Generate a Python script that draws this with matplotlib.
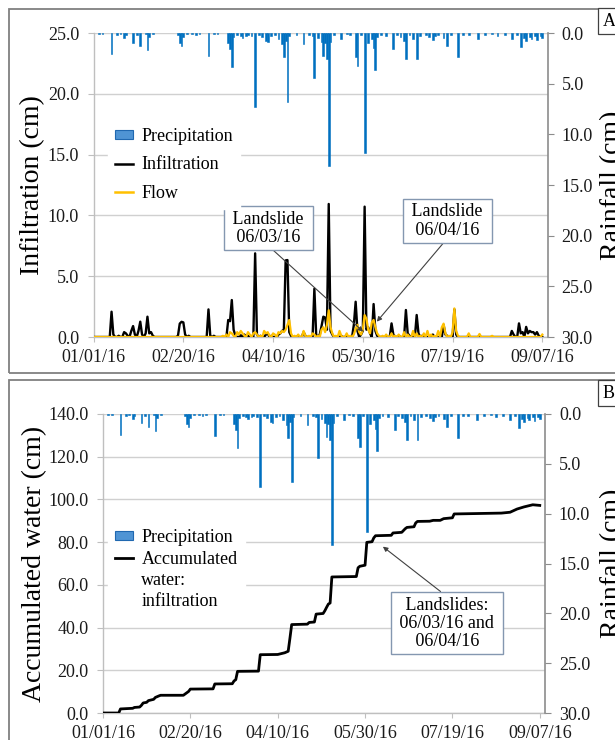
import numpy as np
import matplotlib
matplotlib.use('Agg')
import matplotlib.pyplot as plt
from matplotlib.patches import Rectangle, Patch
from matplotlib.lines import Line2D

plt.rcParams['font.family'] = ['Liberation Serif', 'DejaVu Serif']

# ---------------- data (day index from 01/01/16) ----------------
N_DAYS = 251
x_tick_days = [0, 50, 100, 150, 200, 250]
x_tick_labels = ['01/01/16', '02/20/16', '04/10/16', '05/30/16', '07/19/16', '09/07/16']

prec_days = [3, 5, 10, 13, 15, 17, 18, 22, 24, 26, 29, 30, 31, 33,
             47, 48, 49, 50, 52, 55, 57, 59,
             64, 67, 69,
             75, 76, 77, 78, 80, 82, 83, 85, 86, 88,
             90, 92, 94, 96, 97, 99, 101, 103, 105, 106, 107, 108, 109,
             113, 117, 120, 122,
             123, 125, 127, 128, 129, 130, 131, 132, 134,
             138, 141, 143, 146, 147, 149,
             151, 153, 155, 156, 157, 158, 160, 163,
             167, 169, 171, 173, 174, 176, 178, 180, 182, 185, 187, 189, 190, 192,
             195, 197, 199, 203, 206, 209, 214, 218, 222, 225, 229, 233,
             236, 238, 240, 241, 243, 244, 246, 247, 249, 250]
prec_vals = [0.1, 0.1, 2.1, 0.2, 0.1, 0.5, 0.2, 0.95, 0.2, 1.3, 0.1, 1.7, 0.4, 0.1,
             0.2, 1.0, 1.3, 0.4, 0.1, 0.1, 0.2, 0.1,
             2.25, 0.1, 0.1,
             1.0, 1.6, 3.4, 0.4, 0.2, 0.3, 0.5, 0.3, 0.2, 0.3,
             7.3, 0.2, 0.4, 0.8, 0.9, 0.3, 0.2, 0.6, 1.1, 2.4, 0.8, 6.8, 0.3,
             0.2, 1.1, 0.2, 0.3,
             4.4, 0.5, 0.9, 2.3, 1.0, 2.6, 13.1, 0.9, 0.2,
             0.6, 0.1, 0.2, 2.4, 3.3, 0.2,
             11.8, 1.0, 0.6, 1.5, 3.7, 0.4, 0.2, 0.3,
             1.6, 0.2, 0.4, 0.8, 2.6, 0.2, 0.6, 2.6, 0.3, 0.2, 0.4, 0.7, 0.3, 0.2,
             0.5, 1.3, 0.2, 2.4, 0.2, 0.2, 0.6, 0.2, 0.1, 0.3, 0.2, 0.6,
             0.2, 1.4, 0.5, 0.8, 0.4, 0.6, 0.3, 0.7, 0.3, 0.5]

infil_days = [10, 11, 14, 17, 18, 19, 21, 22, 23, 25, 26, 27, 29, 30, 31, 32, 33,
              47, 48, 49, 50, 51, 53,
              64, 65, 67,
              75, 76, 77, 78, 79, 82, 84, 86,
              90, 91, 93, 96, 97, 99,
              103, 104, 105, 106, 107, 108, 109, 110,
              114, 117, 118,
              123, 124, 126, 127, 128, 129, 130, 131, 132, 133,
              138, 141, 145, 146, 147, 149,
              150, 151, 152, 153, 154, 156, 157, 158,
              166, 167, 170, 174, 175, 176, 180, 181, 183,
              189, 195, 196, 197, 201, 202,
              233, 234, 237, 238, 239, 241, 242, 243, 244, 245, 246, 247, 248]
infil_vals = [2.08, 0.2, 0.1, 0.4, 0.3, 0.1, 0.5, 0.9, 0.2, 0.5, 1.26, 0.2, 0.3, 1.67, 0.3, 0.4, 0.1,
              0.1, 1.1, 1.25, 1.2, 0.2, 0.1,
              2.27, 0.1, 0.1,
              1.4, 1.3, 3.04, 0.6, 0.1, 0.15, 0.2, 0.1,
              6.88, 0.2, 0.1, 0.2, 0.3, 0.1,
              0.2, 0.3, 0.5, 0.6, 6.3, 6.33, 0.4, 0.1,
              0.1, 0.4, 0.1,
              3.97, 0.2, 0.2, 0.9, 1.67, 1.6, 0.6, 10.94, 0.5, 0.2,
              0.1, 0.1, 1.0, 2.9, 0.5, 0.2,
              0.5, 10.72, 0.6, 0.8, 0.3, 2.71, 0.5, 0.1,
              1.12, 0.2, 0.1, 2.22, 0.3, 0.1, 1.81, 0.3, 0.1,
              0.2, 0.99, 0.2, 0.1, 2.27, 0.2,
              0.5, 0.2, 1.12, 0.3, 0.4, 0.83, 0.3, 0.5, 0.4, 0.4, 0.2, 0.4, 0.1]

flow_days = [72, 74, 76, 77, 78, 80, 81, 82, 83, 84, 86, 87, 89, 90, 91, 93, 95, 96, 97, 98,
             100, 101, 103, 104, 105, 106, 107, 108, 109, 110, 112, 114, 117, 118, 120,
             122, 123, 125, 127, 128, 129, 130, 131, 132, 133, 135, 137, 138, 141, 143,
             145, 146, 147, 148, 149, 150, 151, 152, 153, 154, 155, 156, 157, 158, 159,
             161, 163, 166, 168, 170, 173, 175, 178, 180, 182, 184, 186, 188, 190, 192,
             194, 195, 196, 198, 200, 201, 202, 203, 209, 215, 222, 250]
flow_vals = [0.1, 0.2, 0.4, 0.3, 0.1, 0.4, 0.2, 0.5, 0.3, 0.1, 0.4, 0.2, 0.3, 0.4, 0.2, 0.1, 0.5, 0.3, 0.4, 0.1,
             0.3, 0.2, 0.4, 0.3, 0.5, 0.4, 0.6, 1.0, 1.4, 0.3, 0.1, 0.2, 0.5, 0.1, 0.1,
             0.3, 0.2, 0.1, 0.6, 0.8, 0.4, 1.0, 2.2, 0.8, 0.3, 0.1, 0.5, 0.1, 0.3, 0.1,
             0.2, 0.7, 1.0, 0.4, 0.2, 0.6, 1.8, 1.5, 0.6, 0.3, 1.2, 1.4, 0.8, 0.3, 0.1,
             0.1, 0.2, 0.3, 0.1, 0.2, 0.4, 0.2, 0.5, 0.3, 0.1, 0.3, 0.5, 0.2, 0.1, 0.5,
             0.8, 1.1, 0.3, 0.1, 0.4, 2.35, 0.5, 0.1, 0.3, 0.25, 0.1, 0.2]

acc_days = [0, 9, 10, 17, 18, 21, 22, 23, 25, 26, 29, 30, 32, 33, 46, 48, 49, 50, 63, 64,
            74, 75, 76, 77, 89, 90, 100, 104, 106, 107, 108, 117, 118, 121, 122, 126, 127,
            128, 129, 130, 131, 145, 146, 147, 150, 151, 154, 155, 156, 165, 166, 171, 173,
            174, 178, 179, 180, 187, 189, 193, 195, 200, 201, 228, 233, 237, 241, 246, 250]
acc_vals = [0, 0, 1.9, 2.2, 2.6, 2.8, 3.6, 4.7, 5.0, 5.8, 6.4, 7.3, 8.0, 8.3, 8.3, 9.5, 10.1, 11.2, 11.3, 13.6,
            13.7, 15.0, 15.6, 19.5, 19.6, 27.3, 27.4, 28.2, 28.9, 35.0, 41.4, 41.6, 42.4, 42.6, 46.3, 46.6, 47.9,
            49.5, 51.0, 51.5, 63.7, 63.9, 68.0, 68.7, 69.2, 79.9, 80.2, 82.0, 83.0, 83.2, 84.3, 84.6, 86.3,
            86.9, 87.2, 89.0, 89.7, 89.8, 90.2, 90.2, 91.0, 91.4, 93.2, 93.6, 94.0, 95.5, 96.5, 97.5, 97.2]

# ---------------- layout helpers ----------------
W, H = 615, 740
fig = plt.figure(figsize=(W / 100, H / 100), dpi=100)


def fx(px):
    return px / W


def fy(py):
    return 1 - py / H


TICK_C = '#1a1a1a'
GRID_C = '#d0d0d0'
AX_C = '#bfbfbf'
RAX_C = '#8c8c8c'
BAR_C = '#0070c0'
FLOW_C = '#ffc000'
BOX_EC = '#8497b0'


def daily(days, vals):
    s = np.zeros(N_DAYS)
    s[np.array(days)] = vals
    return s


def style_axes(ax, ax2, yticks, yfmt):
    ax.set_xlim(0, 253)
    ax.set_xticks(x_tick_days)
    ax.set_xticklabels(x_tick_labels)
    ax.set_yticks(yticks)
    ax.set_yticklabels([yfmt % v for v in yticks])
    ax.yaxis.grid(True, color=GRID_C, lw=1)
    ax.set_axisbelow(True)
    for s in ['top', 'right']:
        ax.spines[s].set_visible(False)
    for s in ['left', 'bottom']:
        ax.spines[s].set_color(AX_C)
        ax.spines[s].set_linewidth(1)
    ax.tick_params(axis='x', colors=AX_C, labelcolor=TICK_C, labelsize=13, length=3.5, pad=5)
    ax.tick_params(axis='y', colors=AX_C, labelcolor=TICK_C, labelsize=13, length=4, pad=6.5)
    for s in ['left', 'top', 'bottom']:
        ax2.spines[s].set_visible(False)
    ax2.spines['right'].set_color(RAX_C)
    ax2.spines['right'].set_linewidth(1.2)
    ax2.set_ylim(30, 0)
    ax2.set_yticks([0, 5, 10, 15, 20, 25, 30])
    ax2.set_yticklabels(['%.1f' % v for v in [0, 5, 10, 15, 20, 25, 30]])
    ax2.tick_params(axis='y', colors=RAX_C, labelcolor=TICK_C, labelsize=13, length=4, pad=6)


# ---------------- Panel A ----------------
days = np.arange(N_DAYS)
infil = daily(infil_days, infil_vals)
flow = daily(flow_days, flow_vals)

axA = fig.add_axes([fx(93.6), fy(337), fx(547.7) - fx(93.6), (337 - 33) / H])
axA.plot(days, infil, color='black', lw=1.7, zorder=3)
axA.plot(days, flow, color=FLOW_C, lw=1.6, zorder=4)
axA.set_ylim(0, 25)
axA2 = axA.twinx()
axA2.bar(prec_days, prec_vals, width=1.0, color=BAR_C, edgecolor=BAR_C, linewidth=0.4)
style_axes(axA, axA2, [0, 5, 10, 15, 20, 25], '%.1f')

prec_handle = Patch(facecolor='#4f94d4', edgecolor='#2068b0', linewidth=0.8)
legA = axA2.legend([prec_handle, Line2D([], [], color='black', lw=1.8), Line2D([], [], color=FLOW_C, lw=1.8)],
                   ['Precipitation', 'Infiltration', 'Flow'],
                   loc='upper left', bbox_to_anchor=(fx(108), fy(121)), bbox_transform=fig.transFigure,
                   borderaxespad=0, frameon=True, fancybox=False, framealpha=1, edgecolor='white',
                   fontsize=13, handlelength=1.0, handleheight=0.4, handletextpad=0.45,
                   labelspacing=0.62, borderpad=0.4)

box_kw = dict(boxstyle='square,pad=0.25', fc='white', ec=BOX_EC, lw=1)
arr_kw = dict(arrowstyle='-|>', color='#404040', lw=0.8, mutation_scale=7, shrinkA=0, shrinkB=0)
axA2.annotate(' Landslide \n 06/03/16 ', xy=(150.2, 0.44), xycoords=axA.transData,
              xytext=(97.2, 8.96), textcoords=axA.transData, ha='center', va='center',
              fontsize=13, linespacing=1.08, bbox=box_kw,
              arrowprops=dict(arr_kw, relpos=(0.5, 0)))
axA2.annotate(' Landslide \n 06/04/16 ', xy=(157.8, 1.26), xycoords=axA.transData,
              xytext=(197.0, 9.54), textcoords=axA.transData, ha='center', va='center',
              fontsize=13, linespacing=1.08, bbox=box_kw,
              arrowprops=dict(arr_kw, relpos=(0.5, 0)))

# ---------------- Panel B ----------------
axB = fig.add_axes([fx(103), fy(713), fx(545) - fx(103), (713 - 414) / H])
axB.plot(acc_days, acc_vals, color='black', lw=2, zorder=3)
axB.set_ylim(0, 140)
axB2 = axB.twinx()
axB2.bar(prec_days, prec_vals, width=1.0, color=BAR_C, edgecolor=BAR_C, linewidth=0.4)
style_axes(axB, axB2, [0, 20, 40, 60, 80, 100, 120, 140], '%.1f')

blank = Line2D([], [], color='none')
legB = axB2.legend([prec_handle, Line2D([], [], color='black', lw=2), blank, blank],
                   ['Precipitation', 'Accumulated', 'water:', 'infiltration'],
                   loc='upper left', bbox_to_anchor=(fx(108), fy(522)), bbox_transform=fig.transFigure,
                   borderaxespad=0, frameon=True, fancybox=False, framealpha=1, edgecolor='white',
                   fontsize=13, handlelength=1.0, handleheight=0.4, handletextpad=0.45,
                   labelspacing=0.24, borderpad=0.4)

axB2.annotate(' Landslides: \n 06/03/16 and \n 06/04/16 ', xy=(160.2, 77.9), xycoords=axB.transData,
              xytext=(196.9, 42.1), textcoords=axB.transData, ha='center', va='center',
              fontsize=13, linespacing=1.08, bbox=box_kw,
              arrowprops=dict(arr_kw, relpos=(0.5, 1)))

# ---------------- labels, frames ----------------
fig.text(fx(20), fy(185), 'Infiltration (cm)', rotation=90, ha='left', va='center', fontsize=20)
fig.text(fx(600), fy(185), 'Rainfall (cm)', rotation=90, ha='left', va='center', fontsize=20)
fig.text(fx(22), fy(563.5), 'Accumulated water (cm)', rotation=90, ha='left', va='center', fontsize=20)
fig.text(fx(600), fy(563.5), 'Rainfall (cm)', rotation=90, ha='left', va='center', fontsize=20)

lab_box = dict(boxstyle='square,pad=0.25', fc='white', ec='#404040', lw=0.9)
fig.text(fx(603), fy(21), 'A', ha='left', va='center', fontsize=13, bbox=lab_box)
fig.text(fx(603), fy(393), 'B', ha='left', va='center', fontsize=13, bbox=lab_box)

fig.add_artist(Rectangle((fx(9), fy(373)), 1.0, (373 - 9) / H, transform=fig.transFigure,
                         fill=False, ec='#808080', lw=1.3, zorder=0))
fig.add_artist(Rectangle((fx(9), -0.1), 1.0, (740 - 380) / H + 0.1, transform=fig.transFigure,
                         fill=False, ec='#808080', lw=1.3, zorder=0))

fig.savefig('out.png', dpi=100)
